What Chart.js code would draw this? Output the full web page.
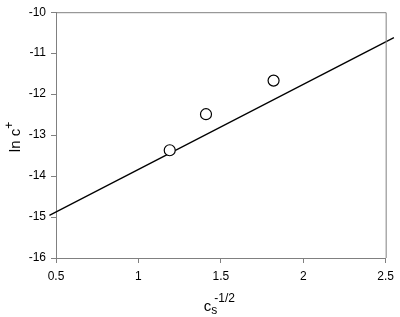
<!DOCTYPE html>
<html>
<head>
<meta charset="utf-8">
<script src="https://cdn.jsdelivr.net/npm/chart.js@4/dist/chart.umd.min.js"></script>
<style>
  html, body { margin: 0; padding: 0; background: #fff; }
  #wrap { width: 400px; height: 317px; }
</style>
</head>
<body>
<div id="wrap"><canvas id="chartLnC"></canvas></div>
<script>
// measured points (x = cs^-1/2, y = ln c+)
const pointX = [1.19, 1.41, 1.82]
const pointY = [-13.37, -12.49, -11.67]
// fitted line, ends as drawn
const lineX = [0.46, 2.55]
const lineY = [-14.96, -10.62]
const xTicks = [0.5, 1, 1.5, 2, 2.5]
const yTicks = [-10, -11, -12, -13, -14, -15, -16]

const axisGray = '#808080'
const fontFam = '"Liberation Sans", Arial, sans-serif'

// frame + axis titles (sub/superscripts need manual drawing)
const extras = {
    id: 'extras',
    afterDraw(chart) {
        const ctx = chart.ctx
        const a = chart.chartArea
        ctx.save()
        ctx.strokeStyle = axisGray
        ctx.lineWidth = 1
        ctx.beginPath()
        ctx.moveTo(a.left, a.top + 0.5)
        ctx.lineTo(a.right + 0.5, a.top + 0.5)
        ctx.lineTo(a.right + 0.5, a.bottom)
        ctx.stroke()

        ctx.fillStyle = '#000'
        ctx.textBaseline = 'alphabetic'
        // x title: c_s^-1/2
        const big = '15px ' + fontFam
        const small = '12px ' + fontFam
        ctx.font = big
        const wc = ctx.measureText('c').width
        ctx.font = small
        const ws = ctx.measureText('s').width
        const wp = ctx.measureText('-1/2').width
        let x0 = (a.left + a.right) / 2 - (wc + Math.max(ws, wp)) / 2 - 3
        const base = 311
        ctx.font = big
        ctx.fillText('c', x0, base)
        ctx.font = small
        ctx.fillText('s', x0 + wc, base + 3)
        ctx.fillText('-1/2', x0 + wc + 3, base - 9)

        // y title: ln c+
        ctx.translate(20, 137)
        ctx.rotate(-Math.PI / 2)
        ctx.font = big
        const wl = ctx.measureText('ln c').width
        ctx.font = small
        const wplus = ctx.measureText('+').width
        const sx = -(wl + wplus) / 2
        ctx.font = big
        ctx.fillText('ln c', sx, 0)
        ctx.font = small
        ctx.fillText('+', sx + wl, -7)
        ctx.restore()
    }
}

const ctxLnC = document.getElementById('chartLnC').getContext('2d')
const chartLnC = new Chart(ctxLnC, {
    type: 'scatter',
    data: {
        datasets: [
            {
                type: 'line',
                data: lineX.map((x, i) => ({ x: x, y: lineY[i] })),
                borderColor: '#000',
                borderWidth: 1.3,
                pointRadius: 0,
                fill: false,
                clip: false,
                order: 2
            },
            {
                data: pointX.map((x, i) => ({ x: x, y: pointY[i] })),
                pointRadius: 5.5,
                pointBorderWidth: 1.2,
                pointBorderColor: '#000',
                pointBackgroundColor: '#fff',
                order: 1
            }
        ]
    },
    options: {
        responsive: true,
        maintainAspectRatio: false,
        animation: false,
        layout: { padding: { top: 6, right: 10, left: 0, bottom: 0 } },
        plugins: { legend: { display: false }, tooltip: { enabled: false } },
        scales: {
            x: {
                type: 'linear',
                min: 0.5,
                max: 2.5,
                afterFit: (s) => { s.height = 59 },
                afterBuildTicks: (s) => { s.ticks = xTicks.map(v => ({ value: v })) },
                grid: { drawOnChartArea: false, drawTicks: true, tickLength: 5, color: axisGray },
                border: { color: axisGray },
                ticks: {
                    color: '#000',
                    padding: 6,
                    maxRotation: 0,
                    font: { family: fontFam, size: 12 },
                    callback: (v) => String(v)
                }
            },
            y: {
                type: 'linear',
                min: -16,
                max: -10,
                afterFit: (s) => { s.width = 56 },
                afterBuildTicks: (s) => { s.ticks = yTicks.map(v => ({ value: v })) },
                grid: { drawOnChartArea: false, drawTicks: true, tickLength: 5, color: axisGray },
                border: { color: axisGray },
                ticks: {
                    color: '#000',
                    padding: 5,
                    font: { family: fontFam, size: 12 },
                    callback: (v) => String(v)
                }
            }
        }
    },
    plugins: [extras]
})
</script>
</body>
</html>
